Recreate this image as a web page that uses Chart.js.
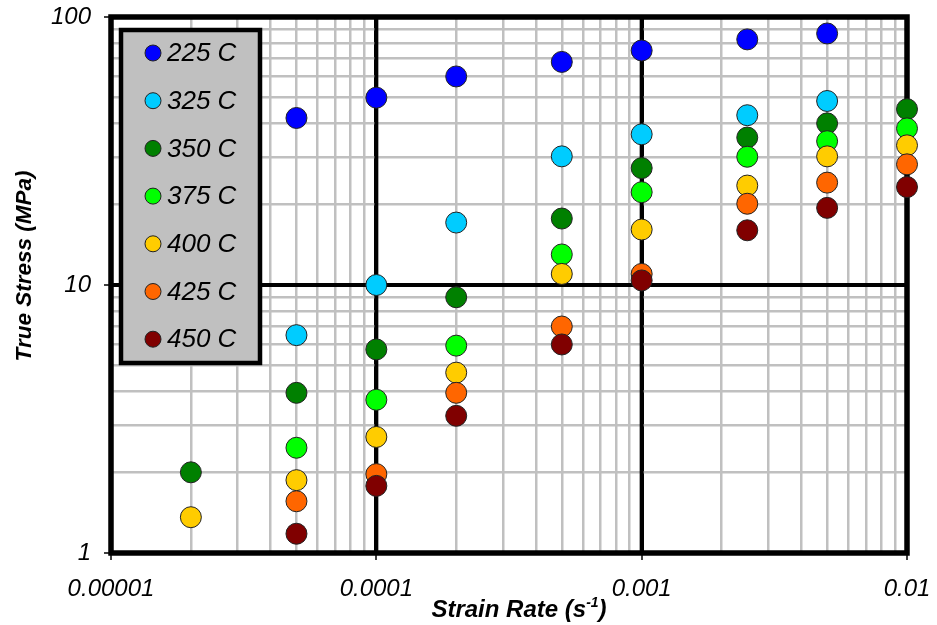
<!DOCTYPE html>
<html>
<head>
<meta charset="utf-8">
<title>True Stress vs Strain Rate</title>
<script src="https://cdn.jsdelivr.net/npm/chart.js@4/dist/chart.umd.min.js"></script>
<style>
  html, body { margin: 0; padding: 0; background: #fff; }
  #wrap { width: 937px; height: 625px; position: relative; }
</style>
</head>
<body>
<div id="wrap"><canvas id="stressChart"></canvas></div>
<script>
// strain rates tested (s^-1)
const strainRates = [2e-5, 5e-5, 1e-4, 2e-4, 5e-4, 1e-3, 2.5e-3, 5e-3, 1e-2];

// true stress (MPa) per test temperature, null where not tested
const stress225 = [null, 42, 50, 60, 68, 75, 82.5, 86.8, null];
const stress325 = [null, 6.5, 10, 17.1, 30.2, 36.5, 43, 48.6, null];
const stress350 = [2.0, 3.96, 5.75, 9.0, 17.7, 27.3, 35.5, 40.1, 45.3];
const stress375 = [null, 2.47, 3.73, 5.94, 13.0, 22.2, 30.1, 34.4, 38.4];
const stress400 = [1.36, 1.87, 2.71, 4.71, 11.0, 16.1, 23.5, 30.2, 33.2];
const stress425 = [null, 1.56, 1.97, 3.96, 7.0, 11.0, 20.1, 24.1, 28.2];
const stress450 = [null, 1.18, 1.78, 3.25, 6.0, 10.4, 16.0, 19.4, 23.2];

const seriesLabels = ['225 C', '325 C', '350 C', '375 C', '400 C', '425 C', '450 C'];
const seriesColors = ['#0000ff', '#00ccff', '#008000', '#00ff00', '#ffcc00', '#ff6600', '#800000'];
const seriesValues = [stress225, stress325, stress350, stress375, stress400, stress425, stress450];

const xTickLabels = ['0.00001', '0.0001', '0.001', '0.01'];
const yTickLabels = ['1', '10', '100'];

function isDecade(v) {
  const l = Math.log10(v);
  return Math.abs(l - Math.round(l)) < 1e-9;
}

// 1..9 x 10^n grid ticks between min and max
function logTicks(min, max) {
  const out = [];
  for (let e = Math.round(Math.log10(min)); e <= Math.round(Math.log10(max)); e++) {
    for (let s = 1; s <= 9; s++) {
      const v = parseFloat((s * Math.pow(10, e)).toPrecision(6));
      if (v >= min * 0.999 && v <= max * 1.001) out.push({ value: v, major: s === 1 });
    }
  }
  return out;
}

function decadeLabel(labels) {
  return function (value) {
    if (!isDecade(value)) return '';
    const hit = labels.find(l => Math.abs(parseFloat(l) - value) / value < 1e-6);
    return hit || '';
  };
}

// keep edge tick labels from pushing the plot area inwards
function fixSize(prop, size) {
  return s => {
    s[prop] = size;
    s.paddingLeft = s.paddingRight = s.paddingTop = s.paddingBottom = 0;
  };
}

const gridStyle = {
  color: ctx => (ctx.tick && isDecade(ctx.tick.value)) ? '#000' : '#c0c0c0',
  lineWidth: ctx => (ctx.tick && isDecade(ctx.tick.value)) ? 4 : 2.5,
  tickColor: ctx => (ctx.tick && isDecade(ctx.tick.value)) ? '#000' : 'rgba(0,0,0,0)',
  tickWidth: 1.5,
  tickLength: 7
};

const datasets = seriesLabels.map((label, i) => ({
  label,
  data: strainRates.map((x, k) => ({ x, y: seriesValues[i][k] })).filter(p => p.y !== null),
  backgroundColor: seriesColors[i],
  borderColor: '#222',
  borderWidth: 1,
  pointRadius: 10.5,
  pointHoverRadius: 10.5,
  clip: false,
  // later temperatures sit on top
  order: seriesLabels.length - i
}));

// decade lines over the light grid, then a heavy frame round the plot area
const frame = {
  id: 'frame',
  beforeDatasetsDraw(chart) {
    const a = chart.chartArea, c = chart.ctx;
    const xs = chart.scales.x, ys = chart.scales.y;
    c.save();
    c.strokeStyle = '#000';
    c.lineWidth = 4;
    c.beginPath();
    xs.ticks.filter(t => isDecade(t.value)).forEach(t => {
      const px = xs.getPixelForValue(t.value);
      c.moveTo(px, a.top);
      c.lineTo(px, a.bottom);
    });
    ys.ticks.filter(t => isDecade(t.value)).forEach(t => {
      const py = ys.getPixelForValue(t.value);
      c.moveTo(a.left, py);
      c.lineTo(a.right, py);
    });
    c.stroke();
    c.lineWidth = 5.5;
    c.strokeRect(a.left, a.top, a.right - a.left, a.bottom - a.top);
    c.restore();
  }
};

// axis titles, with the superscript on the strain rate unit
const axisTitles = {
  id: 'axisTitles',
  afterDraw(chart) {
    const c = chart.ctx;
    c.save();
    c.fillStyle = '#000';
    c.textBaseline = 'alphabetic';

    const main = 'Strain Rate (s';
    const sup = '-1';
    const tail = ')';
    const bigFont = 'italic bold 24px "Liberation Sans", Arial, sans-serif';
    const supFont = 'italic bold 14px "Liberation Sans", Arial, sans-serif';
    c.font = bigFont;
    const wMain = c.measureText(main).width;
    const wTail = c.measureText(tail).width;
    c.font = supFont;
    const wSup = c.measureText(sup).width;
    const total = wMain + wSup + wTail;
    let x = 519 - total / 2;
    const base = 617;
    c.font = bigFont;
    c.fillText(main, x, base);
    x += wMain;
    c.font = supFont;
    c.fillText(sup, x, base - 10);
    x += wSup;
    c.font = bigFont;
    c.fillText(tail, x, base);

    c.translate(25, 266);
    c.rotate(-Math.PI / 2);
    c.font = 'italic bold 22.5px "Liberation Sans", Arial, sans-serif';
    c.textAlign = 'center';
    c.textBaseline = 'middle';
    c.fillText('True Stress (MPa)', 0, 0);
    c.restore();
  }
};

// boxed legend inside the plot, top left
const boxLegend = {
  id: 'boxLegend',
  afterDatasetsDraw(chart) {
    const c = chart.ctx;
    c.save();
    c.fillStyle = '#c0c0c0';
    c.fillRect(121, 30, 139, 333);
    c.strokeStyle = '#000';
    c.lineWidth = 4.5;
    c.strokeRect(121, 30, 139, 333);
    c.font = 'italic 26px "Liberation Sans", Arial, sans-serif';
    c.textBaseline = 'middle';
    chart.data.datasets.forEach((ds, i) => {
      const y = 53 + i * 47.7;
      c.beginPath();
      c.arc(153, y, 8, 0, Math.PI * 2);
      c.fillStyle = ds.backgroundColor;
      c.fill();
      c.lineWidth = 1;
      c.strokeStyle = '#222';
      c.stroke();
      c.fillStyle = '#000';
      c.fillText(ds.label, 167, y + 1);
    });
    c.restore();
  }
};

new Chart(document.getElementById('stressChart').getContext('2d'), {
  type: 'scatter',
  data: { datasets },
  plugins: [frame, boxLegend, axisTitles],
  options: {
    responsive: true,
    maintainAspectRatio: false,
    animation: false,
    events: [],
    layout: { autoPadding: false, padding: { top: 17, right: 30, left: 0, bottom: 0 } },
    plugins: { legend: { display: false }, tooltip: { enabled: false } },
    scales: {
      x: {
        type: 'logarithmic',
        position: 'bottom',
        min: 1e-5,
        max: 1e-2,
        afterBuildTicks: s => { s.ticks = logTicks(1e-5, 1e-2); },
        afterFit: fixSize('height', 72),
        border: { display: false },
        grid: gridStyle,
        ticks: {
          autoSkip: false,
          maxRotation: 0,
          padding: 15,
          color: '#000',
          font: { family: '"Liberation Sans", Arial, sans-serif', size: 24, style: 'italic' },
          callback: decadeLabel(xTickLabels)
        }
      },
      y: {
        type: 'logarithmic',
        min: 1,
        max: 100,
        afterBuildTicks: s => { s.ticks = logTicks(1, 100); },
        afterFit: fixSize('width', 111),
        border: { display: false },
        grid: gridStyle,
        ticks: {
          autoSkip: false,
          padding: 13,
          color: '#000',
          font: { family: '"Liberation Sans", Arial, sans-serif', size: 24, style: 'italic' },
          callback: decadeLabel(yTickLabels)
        }
      }
    }
  }
});
</script>
</body>
</html>
